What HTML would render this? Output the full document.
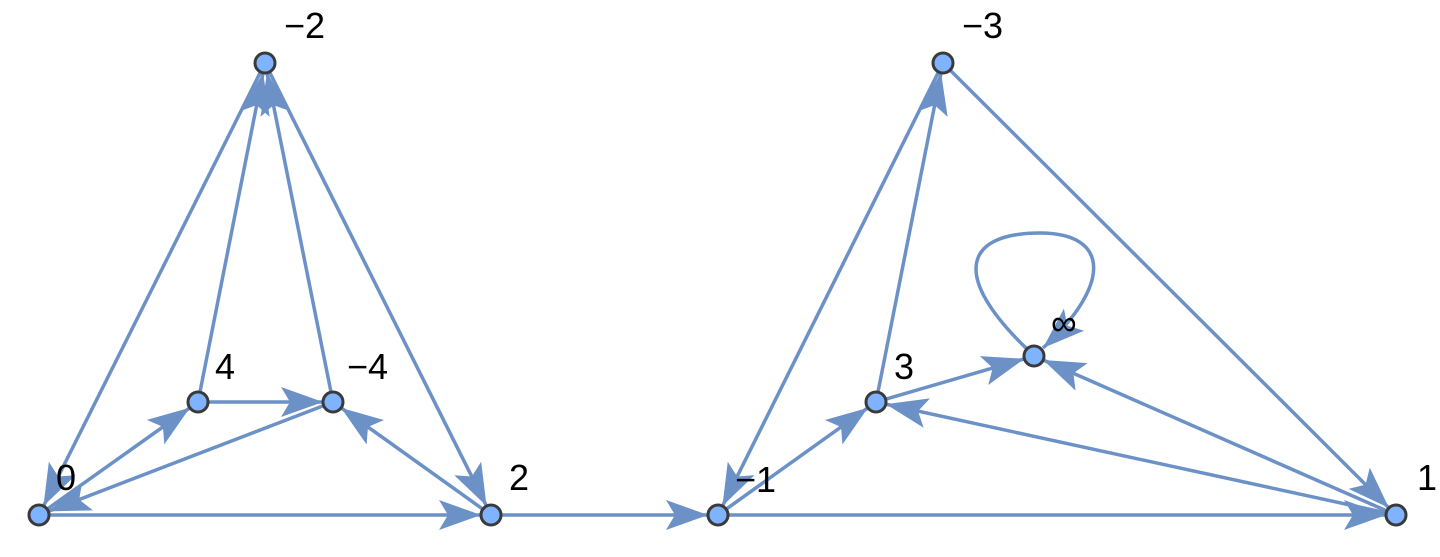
<!DOCTYPE html>
<html><head><meta charset="utf-8"><style>
html,body{margin:0;padding:0;background:#fff;}
svg{display:block;}
text{font-family:"Liberation Sans","DejaVu Sans",sans-serif;font-size:36px;fill:#000;}
</style></head><body>
<svg id="g" width="1440" height="557" viewBox="0 0 1440 557" xmlns="http://www.w3.org/2000/svg">
<defs>
<marker id="a" markerUnits="userSpaceOnUse" markerWidth="60" markerHeight="44" refX="42" refY="18" orient="auto">
<path d="M0,3 L42,18 L0,33 L9,18 z" fill="#6b91c7"/>
</marker>
</defs>
<g id="edges" stroke="#6b91c7" stroke-width="3.5" fill="none"></g>
<path d="M1027,349 C 950,275 965,233 1040,233 C 1110,233 1112,285 1043,348" stroke="#6b91c7" stroke-width="3.5" fill="none" marker-end="url(#a)"/>
<g id="nodes"></g>
<text x="284" y="38">−2</text>
<text x="56" y="490">0</text>
<text x="215" y="379">4</text>
<text x="347" y="379">−4</text>
<text x="509" y="490">2</text>
<text x="735" y="492">−1</text>
<text x="894" y="379">3</text>
<text x="1051" y="335">∞</text>
<text x="962" y="38">−3</text>
<text x="1417" y="490">1</text>
</svg>
<script>
var N={"-2":[265,63],"0":[39,515],"4":[198,402],"-4":[333,402],"2":[491,515],"-1":[718,515],"3":[876,402],"inf":[1034,356],"-3":[943,63],"1":[1396,515]};
var E=[["-2","0"],["0","4"],["-4","0"],["0","2"],["4","-2"],["-4","-2"],["4","-4"],["2","-4"],["-2","2"],["2","-1"],
["-3","-1"],["-1","3"],["3","-3"],["-1","1"],["-3","1"],["3","inf"],["1","inf"],["1","3"]];
var ns="http://www.w3.org/2000/svg",eg=document.getElementById("edges"),ng=document.getElementById("nodes");
E.forEach(function(e){var a=N[e[0]],b=N[e[1]],dx=b[0]-a[0],dy=b[1]-a[1],d=Math.hypot(dx,dy),r=10;
var l=document.createElementNS(ns,"line");
l.setAttribute("x1",a[0]+dx/d*r);l.setAttribute("y1",a[1]+dy/d*r);
l.setAttribute("x2",b[0]-dx/d*r);l.setAttribute("y2",b[1]-dy/d*r);
l.setAttribute("marker-end","url(#a)");eg.appendChild(l);});
for(var k in N){var c=document.createElementNS(ns,"circle");c.setAttribute("cx",N[k][0]);c.setAttribute("cy",N[k][1]);c.setAttribute("r","10");
c.setAttribute("fill","#80b3ff");c.setAttribute("stroke","#3a3a3a");c.setAttribute("stroke-width","3");ng.appendChild(c);}
</script>
</body></html>
